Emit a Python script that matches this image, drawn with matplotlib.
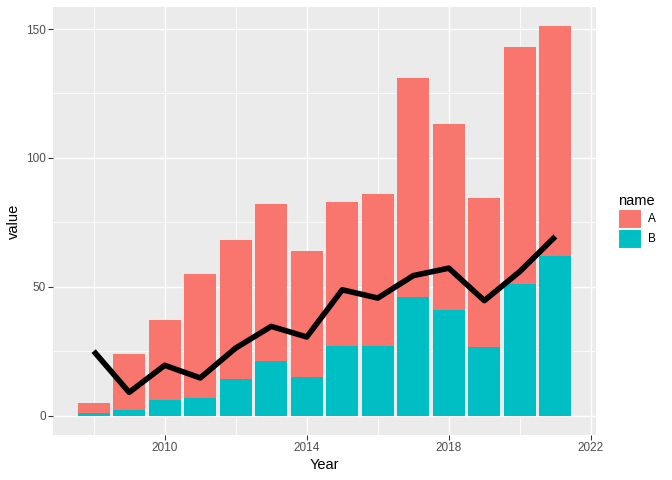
import numpy as np
from matplotlib import pyplot as plt
from matplotlib.patches import Patch

plt.rcParams['font.family'] = ['Liberation Sans', 'DejaVu Sans']

years = np.arange(2008, 2022)
val_a = [4, 22, 31, 48, 54, 61, 49, 56, 59, 85, 72, 58, 92, 89]
val_b = [1, 2, 6, 7, 14, 21, 15, 27, 27, 46, 41, 26.5, 51, 62]
line_vals = [25, 9, 19.5, 14.6, 26.2, 34.6, 30.5, 48.8, 45.6, 54.3, 57.2, 44.6, 55.9, 69.5]

col_a = "#F8766D"
col_b = "#00BFC4"

fig = plt.figure(figsize=(7, 5), dpi=96)
ax = fig.add_axes([53 / 672, 45 / 480, 543 / 672, 428 / 480])
ax.set_facecolor("#EBEBEB")

ax.bar(years, val_b, width=0.9, color=col_b, zorder=3)
ax.bar(years, val_a, width=0.9, bottom=val_b, color=col_a, zorder=3)
ax.plot(years, line_vals, color="black", lw=4.2, zorder=4, solid_capstyle="butt")

ax.set_xlim(2006.855, 2022.145)
ax.set_ylim(-7.55, 158.55)
ax.set_xticks([2010, 2014, 2018, 2022])
ax.set_xticks([2008, 2012, 2016, 2020], minor=True)
ax.set_yticks([0, 50, 100, 150])
ax.set_yticks([25, 75, 125], minor=True)
ax.grid(which="major", color="white", lw=1.1, zorder=0)
ax.grid(which="minor", color="white", lw=0.55, zorder=0)
ax.set_axisbelow(True)
for s in ax.spines.values():
    s.set_visible(False)
ax.tick_params(which="major", length=3.5, width=0.8, color="#333333",
               labelcolor="#4D4D4D", labelsize=8.8, pad=2)
ax.tick_params(which="minor", length=0)

ax.set_xlabel("Year", fontsize=11, labelpad=3)
ax.set_ylabel("value", fontsize=11, labelpad=4)

handles = [Patch(facecolor=col_a, edgecolor="white", lw=0.8),
           Patch(facecolor=col_b, edgecolor="white", lw=0.8)]
fig.legend(handles, ["A", "B"], title="name", loc="center left",
           bbox_to_anchor=(607 / 672, 1 - 221 / 480), frameon=False,
           fontsize=8.8, title_fontsize=11, handlelength=2.0, handleheight=2.1,
           labelspacing=0.1, handletextpad=0.6, alignment="left")

fig.savefig("out.png", dpi=96)
